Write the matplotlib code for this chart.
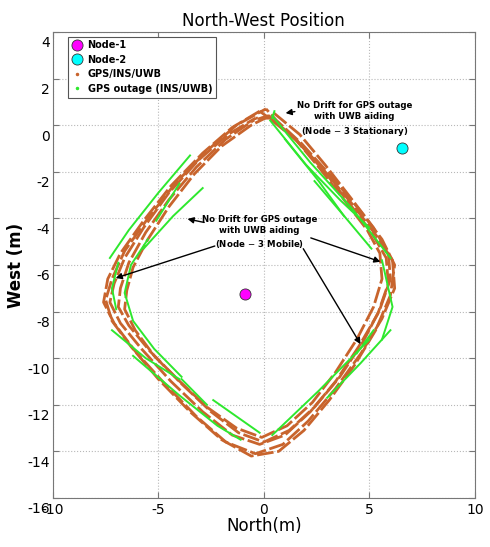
import numpy as np
import matplotlib
matplotlib.use("Agg")
import matplotlib.pyplot as plt
import matplotlib.transforms as mtransforms
from matplotlib.lines import Line2D

plt.rcParams['axes.unicode_minus'] = False

# anchor nodes (North, West) in metres
node1 = (-0.9, -7.25)
node2 = (6.55, -1.0)

# GPS/INS/UWB laps, waypoints
lap_a = [(-0.2, 0.6), (-1.5, -0.1), (-2.9, -1.2), (-4.4, -2.6), (-5.7, -4.1), (-6.8, -5.5),
         (-7.4, -6.6), (-7.6, -7.6), (-7.1, -8.5), (-6.1, -9.7), (-4.7, -11.1), (-3.2, -12.5),
         (-1.8, -13.6), (-0.4, -14.1), (0.9, -13.7), (2.1, -12.7), (3.4, -11.3), (4.6, -9.8),
         (5.6, -8.3), (6.2, -7.0), (6.1, -5.8), (5.3, -4.7), (4.2, -3.4), (2.9, -2.0),
         (1.6, -0.7), (0.4, 0.2), (-0.2, 0.6)]
lap_b = [(-0.4, 0.3), (-1.7, -0.4), (-3.1, -1.5), (-4.5, -2.9), (-5.7, -4.4), (-6.6, -5.7),
         (-7.1, -6.8), (-7.3, -7.6), (-6.8, -8.5), (-5.8, -9.6), (-4.4, -11.0), (-2.9, -12.3),
         (-1.5, -13.3), (-0.2, -13.7), (1.0, -13.3), (2.2, -12.3), (3.4, -11.0), (4.5, -9.5),
         (5.4, -8.1), (5.9, -6.8), (5.8, -5.7), (5.1, -4.6), (4.0, -3.3), (2.8, -1.9),
         (1.5, -0.6), (0.3, 0.3), (-0.4, 0.3)]
lap_c = [(-0.5, 0.2), (-1.8, -0.6), (-3.2, -1.8), (-4.5, -3.2), (-5.6, -4.6), (-6.4, -5.9),
         (-6.8, -7.0), (-6.9, -7.8), (-6.4, -8.6), (-5.4, -9.7), (-4.1, -10.9), (-2.7, -12.1),
         (-1.3, -13.0), (-0.1, -13.4), (1.1, -12.9), (2.3, -11.9), (3.4, -10.6), (4.4, -9.2),
         (5.2, -7.8), (5.6, -6.6), (5.5, -5.5), (4.9, -4.5), (3.8, -3.2), (2.6, -1.8),
         (1.4, -0.5), (0.2, 0.4), (-0.5, 0.2)]
lap_d = [(-0.6, 0.0), (-2.0, -0.9), (-3.3, -2.1), (-4.5, -3.5), (-5.5, -4.9), (-6.2, -6.1),
         (-6.5, -7.1), (-6.6, -7.9), (-6.1, -8.8), (-5.2, -9.9), (-3.9, -11.1), (-2.5, -12.3),
         (-1.2, -13.2), (0.0, -13.6), (1.2, -13.1), (2.4, -12.1), (3.6, -10.8), (4.7, -9.3),
         (5.5, -7.9), (6.0, -6.6), (5.9, -5.5), (5.2, -4.4), (4.1, -3.1), (2.9, -1.7),
         (1.7, -0.4), (0.5, 0.5), (-0.6, 0.0)]
lap_e = [(0.1, 0.7), (-1.3, 0.0), (-2.7, -1.1), (-4.2, -2.5), (-5.5, -4.0), (-6.6, -5.4),
         (-7.2, -6.6), (-7.5, -7.5), (-7.2, -8.4), (-6.3, -9.5), (-5.0, -10.9), (-3.5, -12.3),
         (-2.0, -13.5), (-0.6, -14.2), (0.7, -14.0), (1.9, -13.1), (3.1, -11.8), (4.3, -10.3),
         (5.3, -8.8), (6.0, -7.3), (6.2, -6.0), (5.6, -4.9), (4.5, -3.6), (3.2, -2.2),
         (1.8, -0.8), (0.6, 0.2), (0.1, 0.7)]
fused_laps = [lap_a, lap_b, lap_c, lap_d, lap_e]

# GPS outage stretches (INS/UWB only)
outage_segments = [
    [(-5.7, -5.3), (-4.3, -3.9), (-2.9, -2.7)],
    [(-3.5, -1.3), (-5.0, -2.9), (-6.4, -4.5), (-7.3, -5.7)],
    [(-4.0, -2.5), (-5.1, -4.1)],
    [(-5.5, -4.9), (-6.3, -6.0), (-6.6, -7.2), (-6.2, -8.4), (-5.2, -9.6), (-3.9, -10.8)],
    [(-7.2, -8.8), (-5.6, -10.0), (-4.0, -10.9)],
    [(-6.2, -9.9), (-4.0, -11.6), (-2.2, -12.9), (-1.1, -13.5)],
    [(-3.9, -10.9), (-2.7, -12.0)],
    [(-2.4, -11.8), (-0.2, -13.2)],
    [(0.4, -13.3), (2.6, -11.4), (5.0, -9.2)],
    [(3.0, -11.7), (4.6, -10.2), (6.0, -8.8)],
    [(4.4, -9.8), (5.2, -8.8)],
    [(5.6, -5.8), (6.1, -7.8), (5.6, -9.2)],
    [(0.4, 0.4), (2.2, -1.6), (4.2, -3.6), (6.0, -5.7)],
    [(0.3, 0.2), (2.0, -1.7), (3.6, -3.2), (5.0, -4.4)],
    [(1.0, -0.6), (2.6, -2.4), (3.8, -3.9)],
    [(2.4, -2.4), (3.9, -4.0), (5.1, -5.3)],
    [(-6.9, -5.9), (-7.2, -7.0), (-7.0, -7.9)],
    [(0.5, 0.6), (0.4, 0.3)],
]

brown = '#c8642d'
green = '#2ee82e'

fig = plt.figure(figsize=(4.9, 5.47), dpi=100)
ax = fig.add_axes([0.108, 0.0896, 0.861, 0.852])

for i, lap in enumerate(fused_laps):
    xs = [p[0] for p in lap]
    ys = [p[1] for p in lap]
    ax.plot(xs, ys, color=brown, lw=2.0, ls=(i * 2.5, (6, 1.3)), solid_capstyle='butt', zorder=2)

for seg in outage_segments:
    ax.plot([p[0] for p in seg], [p[1] for p in seg], color=green, lw=1.4, zorder=3)

ax.plot(*node1, 'o', color='#ff00ff', mec='#333333', mew=0.6, ms=8, zorder=4)
ax.plot(*node2, 'o', color='#00ffff', mec='#333333', mew=0.6, ms=8, zorder=4)

afont = dict(fontsize=6.2, fontweight='bold', ha='center', va='center', linespacing=1.35)
aprops = dict(arrowstyle='-|>', color='black', lw=1.0, mutation_scale=9)
ax.annotate('', xy=(0.9, 0.5), xytext=(1.6, 0.6), arrowprops=aprops)
ax.text(4.3, 0.25, 'No Drift for GPS outage\nwith UWB aiding\n(Node$\\,-\\,$3 Stationary)', **afont)

ax.text(-0.2, -4.6, 'No Drift for GPS outage\nwith UWB aiding\n(Node$\\,-\\,$3 Mobile)', **afont)
ax.annotate('', xy=(-3.75, -4.0), xytext=(-2.7, -4.2), arrowprops=aprops)
ax.annotate('', xy=(-7.15, -6.6), xytext=(-2.2, -5.15), arrowprops=aprops)
ax.annotate('', xy=(5.65, -5.9), xytext=(2.1, -4.8), arrowprops=aprops)
ax.annotate('', xy=(4.65, -9.5), xytext=(1.8, -5.2), arrowprops=aprops)

ax.set_xlim(-10, 10)
ax.set_ylim(-16, 4)
ax.set_xticks([-10, -5, 0, 5, 10])
ax.set_yticks(np.arange(-16, 5, 2))
ax.grid(True, ls=':', color='#b8b8b8', lw=0.8)
ax.tick_params(direction='in', top=True, right=True, length=4, color='#777777', labelsize=10)
ax.tick_params(axis='y', pad=2)
for s in ax.spines.values():
    s.set_color('#777777')

# y tick labels sit a bit below their ticks in the original
offset = mtransforms.ScaledTranslation(0, -0.1, fig.dpi_scale_trans)
for lab in ax.get_yticklabels():
    lab.set_transform(lab.get_transform() + offset)

ax.set_title('North-West Position', fontsize=12, pad=4)
ax.set_xlabel('North(m)', fontsize=12, labelpad=0)
ax.set_ylabel('West (m)', fontsize=12, fontweight='bold', labelpad=2)

handles = [
    Line2D([], [], marker='o', ls='none', color='#ff00ff', mec='#333333', mew=0.6, ms=8),
    Line2D([], [], marker='o', ls='none', color='#00ffff', mec='#333333', mew=0.6, ms=8),
    Line2D([], [], marker='.', ls='none', color=brown, ms=3),
    Line2D([], [], marker='.', ls='none', color=green, ms=3),
]
leg = ax.legend(handles, ['Node-1', 'Node-2', 'GPS/INS/UWB', 'GPS outage (INS/UWB)'],
                loc='upper left', bbox_to_anchor=(0.036, 0.99), borderaxespad=0,
                prop=dict(size=7, weight='bold'),
                fancybox=False, framealpha=1, edgecolor='#555555', handletextpad=0.6,
                labelspacing=0.45, borderpad=0.4, handlelength=1.0)
leg.get_frame().set_linewidth(0.8)

fig.savefig('out.png', dpi=100)
